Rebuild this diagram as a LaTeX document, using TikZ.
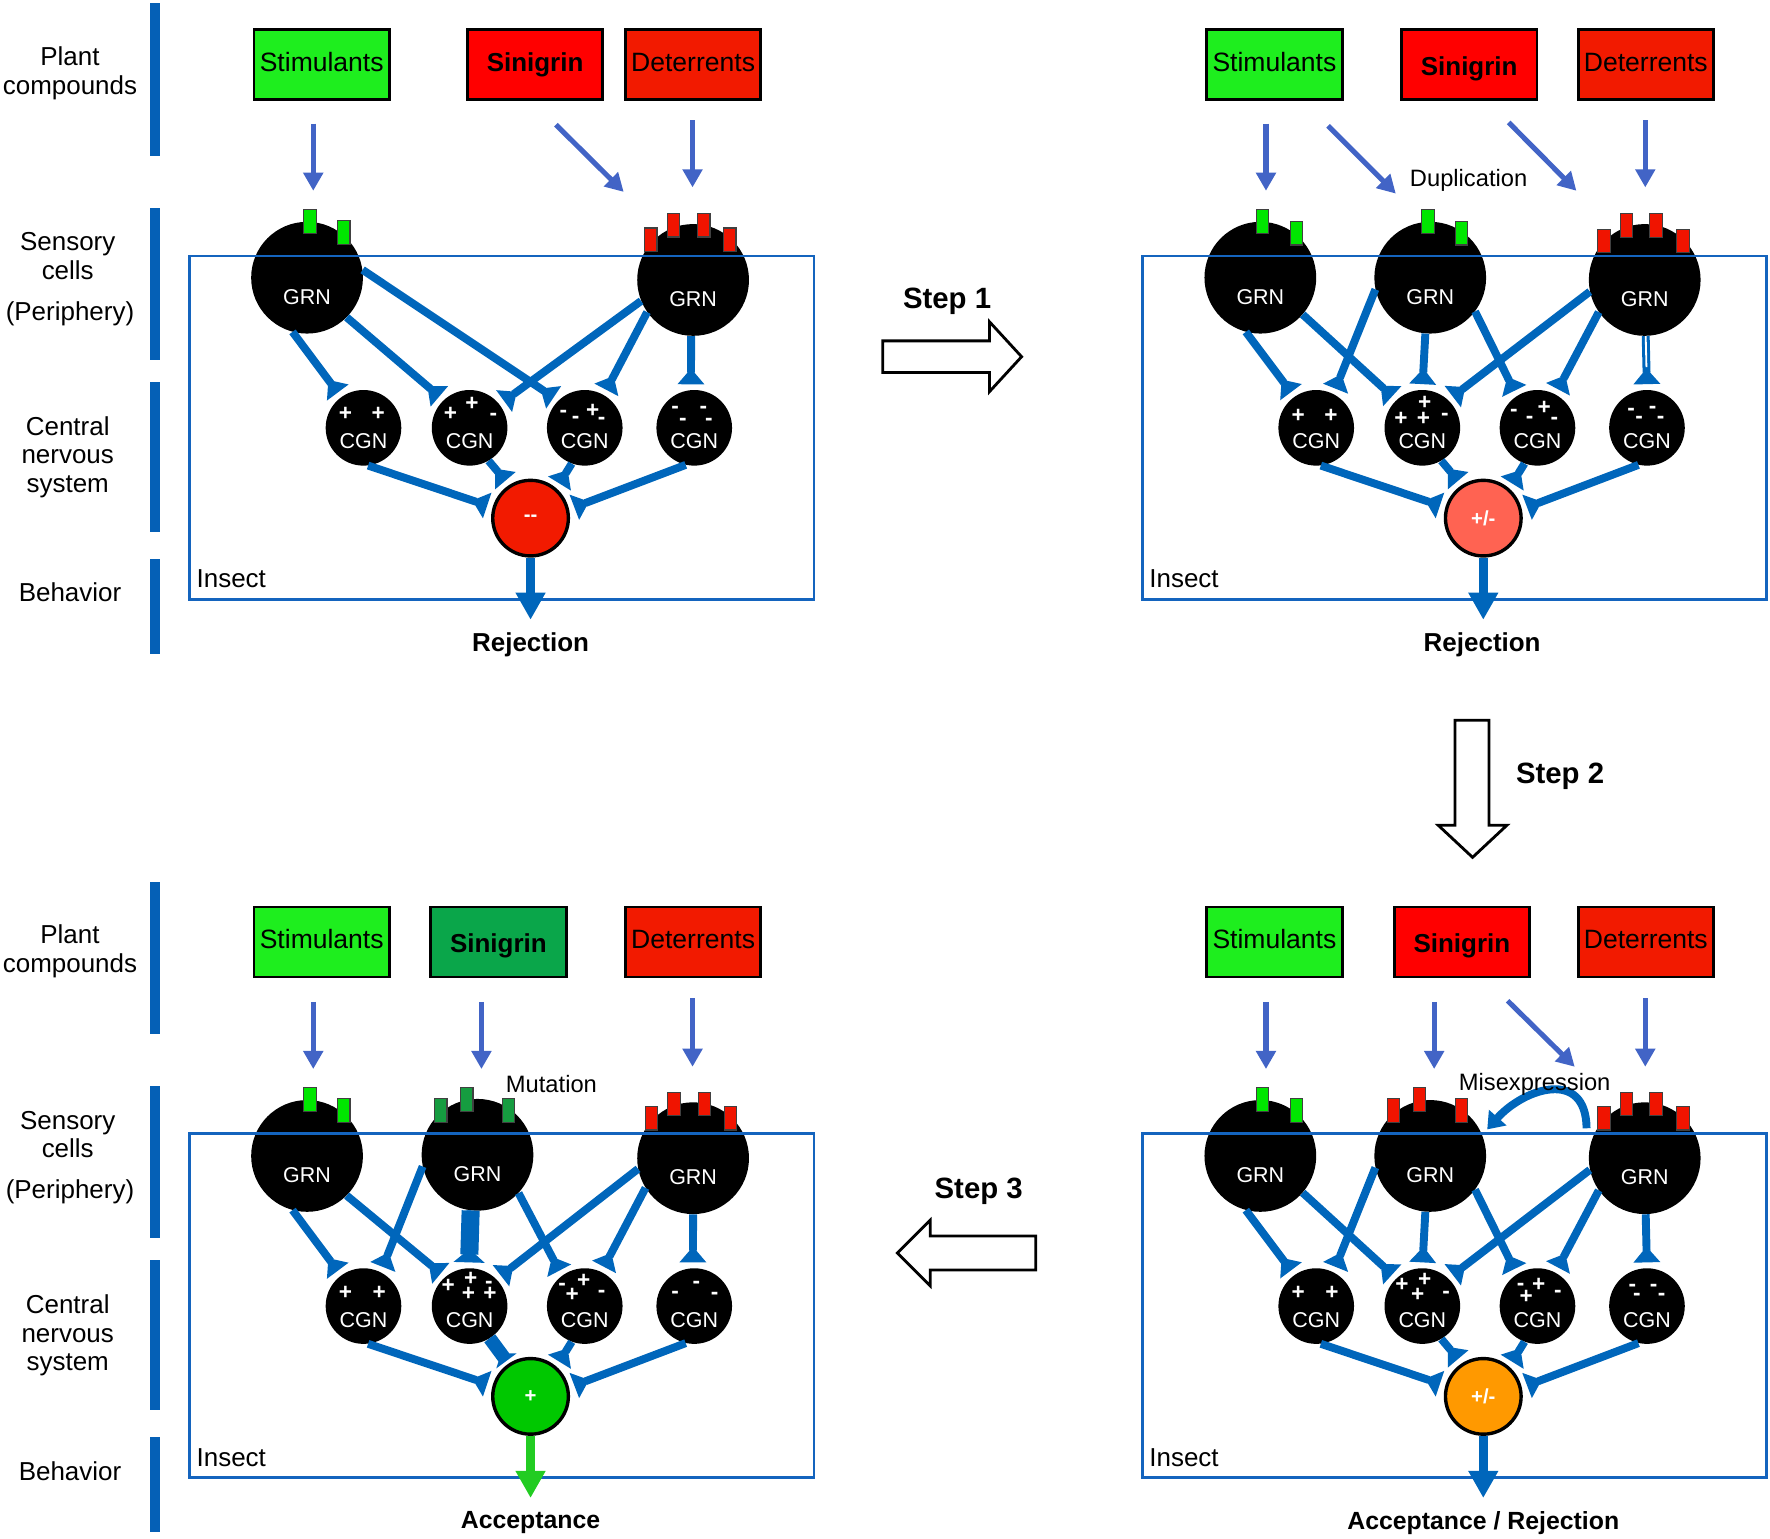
\documentclass[tikz,border=0pt]{standalone}
\usepackage{fontspec}
\setmainfont{Liberation Sans}
\usetikzlibrary{arrows.meta}
\definecolor{cblue}{RGB}{0,102,187}
\definecolor{barblue}{RGB}{5,96,182}
\definecolor{fblue}{RGB}{20,100,190}
\definecolor{tblue}{RGB}{66,100,198}
\definecolor{stimg}{RGB}{30,238,30}
\definecolor{sinr}{RGB}{255,0,0}
\definecolor{detr}{RGB}{242,26,0}
\definecolor{sing}{RGB}{10,166,74}
\definecolor{recg}{RGB}{0,230,0}
\definecolor{recr}{RGB}{240,20,0}
\definecolor{recdg}{RGB}{22,156,64}
\definecolor{outr}{RGB}{242,26,0}
\definecolor{outs}{RGB}{255,99,82}
\definecolor{outo}{RGB}{255,153,0}
\definecolor{outg}{RGB}{0,200,0}
\definecolor{accg}{RGB}{34,204,34}
\begin{document}
\begin{tikzpicture}[x=1pt,y=-1pt,
 lab/.style={font=\fontsize{23}{25.5}\selectfont, align=center, inner sep=0},
 cbox/.style={draw=black, line width=2.5pt, minimum width=120pt, minimum height=62pt, inner sep=0, text height=17pt, text depth=5pt, font=\fontsize{23.5}{26}\selectfont},
 sbox/.style={cbox, font=\bfseries\fontsize{23}{26}\selectfont},
 grn/.style={circle, fill=black, minimum size=99pt, inner sep=0, text=white, font=\fontsize{19}{20}\selectfont, text height=47pt, text depth=0pt},
 cgn/.style={circle, fill=black, minimum size=67pt, inner sep=0},
 cgnt/.style={text=white, font=\fontsize{19}{20}\selectfont, inner sep=0},
 outn/.style={circle, draw=black, line width=3pt, minimum size=67pt, inner sep=0, text=white, font=\bfseries\fontsize{18}{20}\selectfont},
 recep/.style={draw=black!75, line width=1pt, minimum width=11pt, minimum height=21pt, inner sep=0},
 sg/.style={text=white, font=\bfseries\fontsize{20}{20}\selectfont, inner sep=0},
 mn/.style={sg, yshift=-2pt},
 syn/.style={draw=cblue, line width=7pt, -{Triangle[reversed, length=14pt, width=23pt]}, shorten >=5pt},
 fat/.style={draw=cblue, line width=#1},
 thinarr/.style={draw=tblue, line width=4.5pt, -{Triangle[length=16pt, width=17pt]}},
 outarr/.style={draw=cblue, line width=8pt, -{Triangle[length=24pt, width=25pt]}},
 frm/.style={draw=fblue, line width=2.2pt},
 lbar/.style={fill=barblue},
 steparr/.style={draw=black, line width=2.5pt, fill=white, line join=miter},
 stepl/.style={font=\bfseries\fontsize{26}{28}\selectfont, inner sep=0},
 res/.style={font=\bfseries\fontsize{23}{26}\selectfont, inner sep=0},
 notetxt/.style={font=\fontsize{21}{24}\selectfont, inner sep=0},
 insect/.style={font=\fontsize{23}{26}\selectfont, inner sep=0, anchor=west},
 curv/.style={draw=cblue, line width=7pt, -{Triangle[length=14pt, width=20pt]}}
]
\useasboundingbox (0,0) rectangle (1568,1362.5);

% ---------- left column labels and bars ----------
\foreach \yo in {0,778}{
  \fill[lbar] (133,3+\yo) rectangle (142,138+\yo);
  \fill[lbar] (133,184+\yo) rectangle (142,319+\yo);
  \fill[lbar] (133,338+\yo) rectangle (142,471+\yo);
  \fill[lbar] (133,495+\yo) rectangle (142,579+\yo);
}
\node[lab] (l1) at (62,65) {Plant\\compounds};
\node[lab] (l2) at (60,227) {Sensory\\cells};
\node[lab] (l3) at (62,278) {(Periphery)};
\node[lab] (l4) at (60,405) {Central\\nervous\\system};
\node[lab] (l5) at (62,525) {Behavior};
\node[lab] (m1) at (62,843) {Plant\\compounds};
\node[lab] (m2) at (60,1005) {Sensory\\cells};
\node[lab] (m3) at (62,1056) {(Periphery)};
\node[lab] (m4) at (60,1183) {Central\\nervous\\system};
\node[lab] (m5) at (62,1303) {Behavior};

% ================= PANEL A (top left) =================
\node[cbox, fill=stimg] (a-b1) at (285,57) {Stimulants};
\node[sbox, fill=sinr, text depth=5pt] (a-b2) at (474,57) {Sinigrin};
\node[cbox, fill=detr] (a-b3) at (614,57) {Deterrents};
\node[grn] (a-g1) at (272,246) {GRN};
\node[grn] (a-g3) at (614,248) {GRN};
\node[cgn] (a-c1) at (322,379) {};
\node[cgn] (a-c2) at (416,379) {};
\node[cgn] (a-c3) at (518,379) {};
\node[cgn] (a-c4) at (615,379) {};
\node[outn, fill=outr] (a-o) at (470,459) {\mbox{-}\mbox{-}};
\draw[frm] (168,227) rectangle (721,531);
\foreach \nm/\cx/\cy/\cl in {a-r1/274.5/196/recg, a-r2/304.5/206/recg, a-r3/576.5/212.5/recr, a-r4/596.5/199.5/recr, a-r5/623.5/199.5/recr, a-r6/646.5/212.5/recr}
  \node[recep, fill=\cl] (\nm) at (\cx,\cy) {};
\coordinate (a-t1s) at (277.5,109.5); \coordinate (a-t1e) at (277.5,169);
\coordinate (a-t2s) at (492.5,110.5); \coordinate (a-t2e) at (552.5,170);
\coordinate (a-t3s) at (613.5,106.5); \coordinate (a-t3e) at (613.5,166);
\draw[thinarr] (a-t1s) -- (a-t1e);
\draw[thinarr] (a-t2s) -- (a-t2e);
\draw[thinarr] (a-t3s) -- (a-t3e);
\draw[syn] (a-g1.255) -- (a-c1.126);
\draw[syn] (a-g1.315) -- (a-c2.133);
\draw[syn] (a-g1.8) -- (a-c3.134);
\draw[syn] (a-g3.202) -- (a-c2.38);
\draw[syn] (a-g3.215) -- (a-c3.60);
\draw[syn] (a-g3.268) -- (a-c4.95);
\draw[syn] (a-c1.277) -- (a-o.164);
\draw[syn] (a-c2.300) -- (a-o.123);
\draw[syn] (a-c3.250) -- (a-o.49);
\draw[syn] (a-c4.257) -- (a-o.13);
\coordinate (a-end) at (470,549);
\draw[outarr] (a-o) -- (a-end);
\node[res] (a-res) at (470,571) {Rejection};
\node[insect] (a-ins) at (174,513) {Insect};
\foreach \nm/\rf/\dx/\dy in {a-p1/a-c1/-16/-12, a-p2/a-c1/13/-12, a-p3/a-c2/-17/-12, a-p4/a-c2/2/-21, a-p5/a-c3/7/-15}
  \node[sg] (\nm) at ([shift={(\dx,\dy)}]\rf) {+};
\foreach \nm/\rf/\dx/\dy in {a-n1/a-c2/21/-12, a-n2/a-c3/-19/-14, a-n3/a-c3/-8/-9, a-n4/a-c3/15/-8, a-n5/a-c4/-17/-18, a-n6/a-c4/8/-18, a-n7/a-c4/-10/-7, a-n8/a-c4/13/-7}
  \node[mn] (\nm) at ([shift={(\dx,\dy)}]\rf) {-};

% ================= STEP ARROWS =================
\draw[steparr] (782,302) -- (876.5,302) -- (876.5,285) -- (905,316) -- (876.5,347) -- (876.5,330) -- (782,330) -- cycle;
\node[stepl] (st1) at (839,267) {Step 1};
\draw[steparr] (1289,638) -- (1289,731) -- (1274,731) -- (1304.5,759.5) -- (1335,731) -- (1319,731) -- (1319,638) -- cycle;
\node[stepl] (st2) at (1382,688) {Step 2};
\draw[steparr] (917.5,1095) -- (824,1095) -- (824,1081) -- (795,1110) -- (824,1139) -- (824,1125) -- (917.5,1125) -- cycle;
\node[stepl] (st3) at (867,1055) {Step 3};

% ================= PANEL B (top right) =================
\node[cbox, fill=stimg] (b-b1) at (1129,57) {Stimulants};
\node[sbox, fill=sinr, text height=19pt, text depth=0pt] (b-b2) at (1301.5,57) {Sinigrin};
\node[cbox, fill=detr] (b-b3) at (1458,57) {Deterrents};
\node[grn] (b-g1) at (1116.5,246) {GRN};
\node[grn] (b-g2) at (1267,246) {GRN};
\node[grn] (b-g3) at (1457,248) {GRN};
\node[cgn] (b-c1) at (1166,379) {};
\node[cgn] (b-c2) at (1260,379) {};
\node[cgn] (b-c3) at (1362,379) {};
\node[cgn] (b-c4) at (1459,379) {};
\node[outn, fill=outs] (b-o) at (1314,459) {+/-};
\draw[frm] (1012,227) rectangle (1565,531);
\foreach \nm/\cx/\cy/\cl in {b-r1/1118.5/196/recg, b-r2/1148.5/206.5/recg, b-r3/1265/196/recg, b-r4/1294.5/206.5/recg, b-r5/1421/213.5/recr, b-r6/1441/200/recr, b-r7/1467/200/recr, b-r8/1491/213.5/recr}
  \node[recep, fill=\cl] (\nm) at (\cx,\cy) {};
\coordinate (b-t1s) at (1121.5,109.5); \coordinate (b-t1e) at (1121.5,169);
\coordinate (b-t2s) at (1176.5,111.5); \coordinate (b-t2e) at (1236.5,171.5);
\coordinate (b-t3s) at (1336.5,108.5); \coordinate (b-t3e) at (1396.5,169);
\coordinate (b-t4s) at (1457.5,106.5); \coordinate (b-t4e) at (1457.5,166);
\draw[thinarr] (b-t1s) -- (b-t1e);
\draw[thinarr] (b-t2s) -- (b-t2e);
\draw[thinarr] (b-t3s) -- (b-t3e);
\draw[thinarr] (b-t4s) -- (b-t4e);
\node[notetxt] (b-dup) at (1301,160) {Duplication};
\draw[syn] (b-g1.255) -- (b-c1.125);
\draw[syn] (b-g1.319) -- (b-c2.133);
\draw[syn] (b-g2.192) -- (b-c1.63);
\draw[syn] (b-g2.265) -- (b-c2.90);
\draw[syn] (b-g2.323) -- (b-c3.123);
\draw[syn] (b-g3.192) -- (b-c2.47);
\draw[syn] (b-g3.215) -- (b-c3.62);
\draw[syn] (b-g3.271) -- (b-c4.90);
\draw[white, line width=1.6pt, shorten >=20pt] (b-g3.271) -- (b-c4.90);
\draw[syn] (b-c1.277) -- (b-o.164);
\draw[syn] (b-c2.300) -- (b-o.123);
\draw[syn] (b-c3.250) -- (b-o.49);
\draw[syn] (b-c4.257) -- (b-o.13);
\coordinate (b-end) at (1314,549);
\draw[outarr] (b-o) -- (b-end);
\node[res] (b-res) at (1313,571) {Rejection};
\node[insect] (b-ins) at (1018,513) {Insect};
\foreach \nm/\rf/\dx/\dy in {b-p1/b-c1/-16/-11, b-p2/b-c1/13/-11, b-p3/b-c2/2/-22, b-p4/b-c2/-19/-8, b-p5/b-c2/1/-8, b-p6/b-c3/6/-18}
  \node[sg] (\nm) at ([shift={(\dx,\dy)}]\rf) {+};
\foreach \nm/\rf/\dx/\dy in {b-n1/b-c2/20/-12, b-n2/b-c3/-21/-15, b-n3/b-c3/-7/-9, b-n4/b-c3/15/-8, b-n5/b-c4/-14/-16, b-n6/b-c4/5/-18, b-n7/b-c4/-7/-9, b-n8/b-c4/12/-9}
  \node[mn] (\nm) at ([shift={(\dx,\dy)}]\rf) {-};

% ================= PANEL C (bottom right) =================
\node[cbox, fill=stimg] (c-b1) at (1129,834.5) {Stimulants};
\node[sbox, fill=sinr, text height=19pt, text depth=0pt] (c-b2) at (1295,834.5) {Sinigrin};
\node[cbox, fill=detr] (c-b3) at (1458,834.5) {Deterrents};
\node[grn] (c-g1) at (1116.5,1024) {GRN};
\node[grn] (c-g2) at (1267,1024) {GRN};
\node[grn] (c-g3) at (1457,1026) {GRN};
\node[cgn] (c-c1) at (1166,1157) {};
\node[cgn] (c-c2) at (1260,1157) {};
\node[cgn] (c-c3) at (1362,1157) {};
\node[cgn] (c-c4) at (1459,1157) {};
\node[outn, fill=outo] (c-o) at (1314,1237) {+/-};
\draw[frm] (1012,1004) rectangle (1565,1309);
\foreach \nm/\cx/\cy/\cl in {c-r1/1118.5/974/recg, c-r2/1148.5/984/recg, c-r3/1234.5/984/recr, c-r4/1257.5/974/recr, c-r5/1294.5/984/recr, c-r6/1421/990.5/recr, c-r7/1441/978/recr, c-r8/1467/978/recr, c-r9/1491/990.5/recr}
  \node[recep, fill=\cl] (\nm) at (\cx,\cy) {};
\coordinate (c-t1s) at (1121.5,887.5); \coordinate (c-t1e) at (1121.5,947);
\coordinate (c-t2s) at (1270.5,887.5); \coordinate (c-t2e) at (1270.5,947);
\coordinate (c-t3s) at (1335.5,886.5); \coordinate (c-t3e) at (1395,945);
\coordinate (c-t4s) at (1457.5,884.5); \coordinate (c-t4e) at (1457.5,945);
\draw[thinarr] (c-t1s) -- (c-t1e);
\draw[thinarr] (c-t2s) -- (c-t2e);
\draw[thinarr] (c-t3s) -- (c-t3e);
\draw[thinarr] (c-t4s) -- (c-t4e);
\coordinate (c-ms) at (1405.5,999.5);
\coordinate (c-me) at (1317.5,1000.5);
\draw[curv] (c-ms) .. controls (1405,946) and (1350,964) .. (c-me);
\node[notetxt] (c-mis) at (1359.5,961) {Misexpression};
\draw[syn] (c-g1.255) -- (c-c1.125);
\draw[syn] (c-g1.319) -- (c-c2.133);
\draw[syn] (c-g2.192) -- (c-c1.63);
\draw[syn] (c-g2.265) -- (c-c2.90);
\draw[syn] (c-g2.323) -- (c-c3.123);
\draw[syn] (c-g3.192) -- (c-c2.47);
\draw[syn] (c-g3.215) -- (c-c3.62);
\draw[syn] (c-g3.271) -- (c-c4.90);
\draw[syn] (c-c1.277) -- (c-o.164);
\draw[syn] (c-c2.300) -- (c-o.123);
\draw[syn] (c-c3.250) -- (c-o.49);
\draw[syn] (c-c4.257) -- (c-o.13);
\coordinate (c-end) at (1314,1327);
\draw[outarr] (c-o) -- (c-end);
\node[res, font=\bfseries\fontsize{22}{26}\selectfont] (c-res) at (1314,1349) {Acceptance / Rejection};
\node[insect] (c-ins) at (1018,1291) {Insect};
\foreach \nm/\rf/\dx/\dy in {c-p1/c-c1/-16/-12, c-p2/c-c1/14/-12, c-p3/c-c2/-18/-19, c-p4/c-c2/2/-23, c-p5/c-c2/-4/-10, c-p6/c-c3/1/-19, c-p7/c-c3/-10/-8}
  \node[sg] (\nm) at ([shift={(\dx,\dy)}]\rf) {+};
\foreach \nm/\rf/\dx/\dy in {c-n1/c-c2/21/-12, c-n2/c-c3/-15/-19, c-n3/c-c3/18/-13, c-n4/c-c4/-13/-18, c-n5/c-c4/6/-18, c-n6/c-c4/-9/-10, c-n7/c-c4/13/-10}
  \node[mn] (\nm) at ([shift={(\dx,\dy)}]\rf) {-};

% ================= PANEL D (bottom left) =================
\node[cbox, fill=stimg] (d-b1) at (285,834.5) {Stimulants};
\node[sbox, fill=sing, text height=19pt, text depth=0pt] (d-b2) at (441.5,834.5) {Sinigrin};
\node[cbox, fill=detr] (d-b3) at (614,834.5) {Deterrents};
\node[grn] (d-g1) at (272,1024) {GRN};
\node[grn] (d-g2) at (423,1023) {GRN};
\node[grn] (d-g3) at (614,1026) {GRN};
\node[cgn] (d-c1) at (322,1157) {};
\node[cgn] (d-c2) at (416,1157) {};
\node[cgn] (d-c3) at (518,1157) {};
\node[cgn] (d-c4) at (615,1157) {};
\node[outn, fill=outg] (d-o) at (470,1237) {+};
\draw[frm] (168,1004) rectangle (721,1309);
\foreach \nm/\cx/\cy/\cl in {d-r1/274.5/974/recg, d-r2/304.5/984/recg, d-r3/390.5/984/recdg, d-r4/413.5/974/recdg, d-r5/450.5/984/recdg, d-r6/577/990.5/recr, d-r7/597/978/recr, d-r8/624/978/recr, d-r9/647/990.5/recr}
  \node[recep, fill=\cl] (\nm) at (\cx,\cy) {};
\coordinate (d-t1s) at (277.5,887.5); \coordinate (d-t1e) at (277.5,947);
\coordinate (d-t2s) at (426.5,887.5); \coordinate (d-t2e) at (426.5,947);
\coordinate (d-t3s) at (613.5,884.5); \coordinate (d-t3e) at (613.5,945);
\draw[thinarr] (d-t1s) -- (d-t1e);
\draw[thinarr] (d-t2s) -- (d-t2e);
\draw[thinarr] (d-t3s) -- (d-t3e);
\node[notetxt] (d-mut) at (488.5,960) {Mutation};
\draw[syn] (d-g1.255) -- (d-c1.126);
\draw[syn] (d-g1.315) -- (d-c2.130);
\draw[syn] (d-g2.192) -- (d-c1.63);
\draw[fat=16pt, shorten >=12pt] (d-g2.263) -- (d-c2.91);
\draw[syn, -{Triangle[reversed, length=12pt, width=27pt]}] (d-g2.263) -- (d-c2.91);
\draw[syn] (d-g2.317) -- (d-c3.127);
\draw[syn] (d-g3.191) -- (d-c2.45);
\draw[syn] (d-g3.212) -- (d-c3.64);
\draw[syn] (d-g3.270) -- (d-c4.92);
\draw[syn] (d-c1.277) -- (d-o.164);
\draw[fat=12pt, shorten >=6pt] (d-c2.302) -- (d-o.124);
\draw[syn, -{Triangle[reversed, length=8pt, width=22pt]}, shorten >=3pt] (d-c2.302) -- (d-o.124);
\draw[syn] (d-c3.250) -- (d-o.49);
\draw[syn] (d-c4.257) -- (d-o.13);
\coordinate (d-end) at (470,1327);
\draw[outarr, draw=accg] (d-o) -- (d-end);
\node[res, font=\bfseries\fontsize{22}{26}\selectfont] (d-res) at (470,1349) {Acceptance};
\node[insect] (d-ins) at (174,1291) {Insect};
\foreach \nm/\rf/\dx/\dy in {d-p1/d-c1/-16/-12, d-p2/d-c1/14/-12, d-p3/d-c2/-19/-18, d-p4/d-c2/1/-24, d-p5/d-c2/-1/-10.5, d-p6/d-c2/18/-10.5, d-p7/d-c3/-1/-22, d-p8/d-c3/-11/-10}
  \node[sg] (\nm) at ([shift={(\dx,\dy)}]\rf) {+};
\foreach \nm/\rf/\dx/\dy in {d-n1/d-c2/17/-21, d-n2/d-c3/-20/-19, d-n3/d-c3/15/-13, d-n4/d-c4/-17/-12, d-n5/d-c4/2/-21, d-n6/d-c4/18/-11}
  \node[mn] (\nm) at ([shift={(\dx,\dy)}]\rf) {-};

% ---------- CGN labels ----------
\foreach \c in {a-c1,a-c2,a-c3,a-c4,b-c1,b-c2,b-c3,b-c4,c-c1,c-c2,c-c3,c-c4,d-c1,d-c2,d-c3,d-c4}
  \node[cgnt] (\c-t) at ([shift={(0,12)}]\c) {CGN};
\end{tikzpicture}
\end{document}
